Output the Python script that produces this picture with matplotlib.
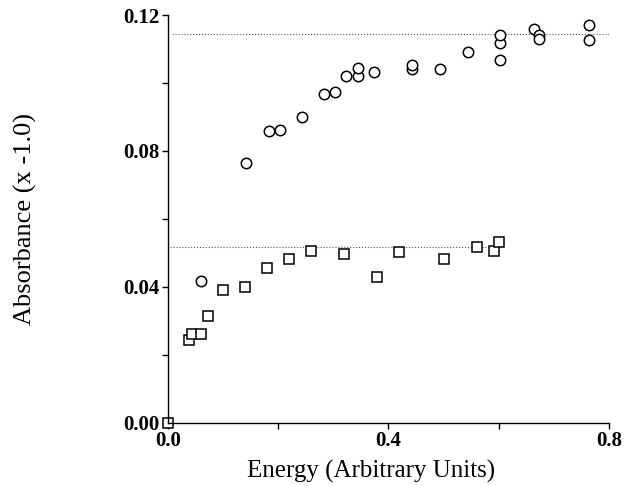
import matplotlib
matplotlib.use("Agg")
import matplotlib.pyplot as plt
import numpy as np

plt.rcParams['font.family'] = ['Liberation Serif', 'DejaVu Serif']

# circles (upper series)
circ_x = [0.060, 0.141, 0.183, 0.204, 0.243, 0.283, 0.304, 0.323, 0.344, 0.344,
          0.374, 0.443, 0.443, 0.493, 0.544, 0.603, 0.603, 0.603, 0.664, 0.673,
          0.673, 0.764, 0.764]
circ_y = [0.0416, 0.0766, 0.0860, 0.0862, 0.0899, 0.0968, 0.0974, 0.1021, 0.1021, 0.1043,
          0.1032, 0.1040, 0.1052, 0.1041, 0.1090, 0.1068, 0.1119, 0.1141, 0.1159, 0.1141,
          0.1130, 0.1171, 0.1128]

# squares (lower series)
sq_x = [0.000, 0.039, 0.043, 0.061, 0.073, 0.100, 0.140, 0.179, 0.220, 0.260,
        0.320, 0.380, 0.420, 0.500, 0.560, 0.591, 0.600]
sq_y = [0.0000, 0.0244, 0.0261, 0.0261, 0.0314, 0.0391, 0.0399, 0.0455, 0.0482, 0.0506,
        0.0497, 0.0429, 0.0502, 0.0483, 0.0518, 0.0507, 0.0531]

# plateau levels
upper_level = 0.1144
upper_span = [0.007, 0.81]
lower_level = 0.0516
lower_span = [0.004, 0.595]

x_major = [0.0, 0.4, 0.8]
x_minor = [0.2, 0.6]
y_major = [0.00, 0.04, 0.08, 0.12]
y_minor = [0.02, 0.06, 0.10]

fig = plt.figure(figsize=(6.24, 4.86), dpi=100)
ax = fig.add_axes([0.269, 0.130, 0.707, 0.839])

ax.plot(upper_span, [upper_level, upper_level], linestyle=':', color='#555555', linewidth=0.8)
ax.plot(lower_span, [lower_level, lower_level], linestyle=':', color='#555555', linewidth=0.8)

ax.plot(circ_x, circ_y, linestyle='none', marker='o', markersize=7.5,
        markerfacecolor='white', markeredgecolor='black', markeredgewidth=1.1, clip_on=False)
ax.plot(sq_x, sq_y, linestyle='none', marker='s', markersize=7,
        markerfacecolor='white', markeredgecolor='black', markeredgewidth=1.1, clip_on=False)

ax.set_xlim(0, 0.8)
ax.set_ylim(0, 0.12)
ax.spines['top'].set_visible(False)
ax.spines['right'].set_visible(False)
ax.spines['left'].set_linewidth(1.0)
ax.spines['bottom'].set_linewidth(1.0)

ax.set_xticks(x_major)
ax.set_xticks(x_minor, minor=True)
ax.set_yticks(y_major)
ax.set_yticks(y_minor, minor=True)
ax.set_xticklabels(['0.0', '0.4', '0.8'])
ax.set_yticklabels(['0.00', '0.04', '0.08', '0.12'])
ax.tick_params(which='both', direction='out', length=4, width=1.0, labelsize=15, pad=2)
for lab in ax.get_xticklabels() + ax.get_yticklabels():
    lab.set_fontweight('bold')

ax.set_xlabel('Energy (Arbitrary Units)', fontsize=18)
ax.xaxis.set_label_coords(0.46, -0.092, transform=ax.transAxes)
ax.xaxis.label.set_verticalalignment('top')
ax.set_ylabel('Absorbance (x -1.0)', fontsize=19, labelpad=62)

fig.savefig('out.png', dpi=100)
